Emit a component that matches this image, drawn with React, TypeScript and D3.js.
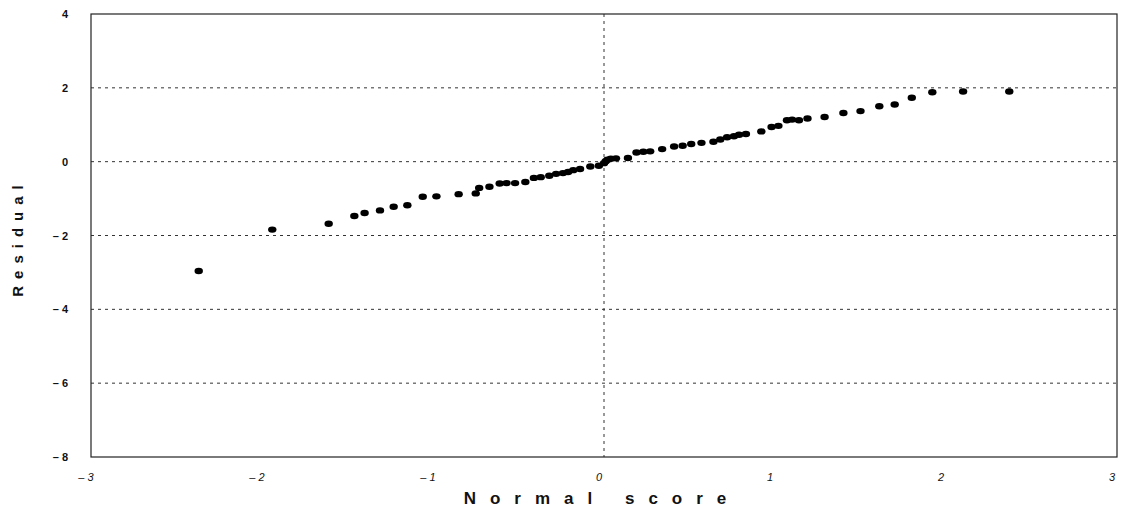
import React from 'react';
import * as d3 from 'd3';

// Normal probability plot of residuals
const normalScore = [
  -2.37, -1.94, -1.61, -1.46, -1.40, -1.31, -1.23, -1.15, -1.06, -0.98,
  -0.85, -0.75, -0.73, -0.67, -0.61, -0.57, -0.52, -0.46, -0.41, -0.37,
  -0.32, -0.28, -0.24, -0.21, -0.18, -0.14, -0.08, -0.03, 0.0, 0.01,
  0.02, 0.04, 0.07, 0.14, 0.19, 0.23, 0.27, 0.34, 0.41, 0.46,
  0.51, 0.57, 0.64, 0.68, 0.72, 0.76, 0.79, 0.83, 0.92, 0.98,
  1.02, 1.07, 1.10, 1.14, 1.19, 1.29, 1.40, 1.50, 1.61, 1.70,
  1.80, 1.92, 2.10, 2.37,
];
const residual = [
  -2.96, -1.84, -1.68, -1.47, -1.39, -1.32, -1.22, -1.18, -0.95, -0.94,
  -0.88, -0.86, -0.71, -0.68, -0.59, -0.58, -0.58, -0.55, -0.44, -0.42,
  -0.38, -0.33, -0.31, -0.28, -0.23, -0.20, -0.13, -0.11, -0.04, 0.01,
  0.05, 0.08, 0.09, 0.10, 0.25, 0.27, 0.28, 0.34, 0.41, 0.43,
  0.48, 0.51, 0.54, 0.60, 0.66, 0.69, 0.73, 0.75, 0.82, 0.94,
  0.97, 1.12, 1.14, 1.12, 1.17, 1.21, 1.32, 1.37, 1.50, 1.55,
  1.73, 1.88, 1.90, 1.90,
];
const xTicks = [-3, -2, -1, 0, 1, 2, 3];
const yTicks = [4, 2, 0, -2, -4, -6, -8];
const yGrid = [2, 0, -2, -4, -6];

const fmt = (v: number) => (v < 0 ? '\u2013 ' + Math.abs(v) : String(v));

export default function App() {
  const svgRef = React.useRef<SVGSVGElement>(null);
  const width = 1126;
  const height = 511;
  const margin = { top: 14, right: 9, bottom: 54, left: 91 };
  const innerW = width - margin.left - margin.right;
  const innerH = height - margin.top - margin.bottom;

  React.useEffect(() => {
    const x = d3.scaleLinear().domain([-3, 3]).range([0, innerW]);
    const y = d3.scaleLinear().domain([-8, 4]).range([innerH, 0]);

    const svgEl = d3.select(svgRef.current);
    svgEl.selectAll('*').remove();
    const g = svgEl.append('g').attr('transform', `translate(${margin.left},${margin.top})`);

    // dashed grid lines
    g.selectAll('.hgrid')
      .data(yGrid)
      .enter()
      .append('line')
      .attr('x1', 0)
      .attr('x2', innerW)
      .attr('y1', (d) => y(d))
      .attr('y2', (d) => y(d))
      .attr('stroke', '#333')
      .attr('stroke-width', 1)
      .attr('stroke-dasharray', '3 4');
    g.append('line')
      .attr('x1', x(0))
      .attr('x2', x(0))
      .attr('y1', 0)
      .attr('y2', innerH)
      .attr('stroke', '#333')
      .attr('stroke-width', 1)
      .attr('stroke-dasharray', '3 4');

    // frame
    g.append('rect')
      .attr('width', innerW)
      .attr('height', innerH)
      .attr('fill', 'none')
      .attr('stroke', '#222')
      .attr('stroke-width', 1.2);

    // y tick labels
    g.selectAll('.ylab')
      .data(yTicks)
      .enter()
      .append('text')
      .attr('x', -23)
      .attr('y', (d) => y(d) + 4)
      .attr('text-anchor', 'end')
      .attr('font-family', 'Liberation Sans, Arial, sans-serif')
      .attr('font-weight', 'bold')
      .attr('font-size', 11)
      .attr('fill', '#111')
      .text((d) => fmt(d));

    // x tick labels
    g.selectAll('.xlab')
      .data(xTicks)
      .enter()
      .append('text')
      .attr('x', (d) => x(d) - 5)
      .attr('y', innerH + 24)
      .attr('text-anchor', 'middle')
      .attr('font-family', 'Liberation Sans, Arial, sans-serif')
      .attr('font-style', 'italic')
      .attr('font-size', 11)
      .attr('fill', '#111')
      .text((d) => fmt(d));

    // points
    g.selectAll('.pt')
      .data(normalScore.map((v, i) => [v, residual[i]]))
      .enter()
      .append('ellipse')
      .attr('cx', (d) => x(d[0]))
      .attr('cy', (d) => y(d[1]))
      .attr('rx', 4.2)
      .attr('ry', 3.2)
      .attr('fill', '#000');

    // axis titles
    svgEl.append('text')
      .attr('x', margin.left + x(0) - 2)
      .attr('y', 504)
      .attr('text-anchor', 'middle')
      .attr('font-family', 'Liberation Sans, Arial, sans-serif')
      .attr('font-weight', 'bold')
      .attr('font-size', 17)
      .attr('letter-spacing', 14)
      .attr('fill', '#111')
      .text('Normal score');
    svgEl.append('text')
      .attr('transform', `translate(23, ${margin.top + y(-2) + 2}) rotate(-90)`)
      .attr('text-anchor', 'middle')
      .attr('font-family', 'Liberation Sans, Arial, sans-serif')
      .attr('font-weight', 'bold')
      .attr('font-size', 15)
      .attr('letter-spacing', 7)
      .attr('fill', '#111')
      .text('Residual');
  }, []);

  return (
    <svg
      ref={svgRef}
      width={width}
      height={height}
      style={{ position: 'absolute', left: 0, top: 0, background: '#fff' }}
    />
  );
}
